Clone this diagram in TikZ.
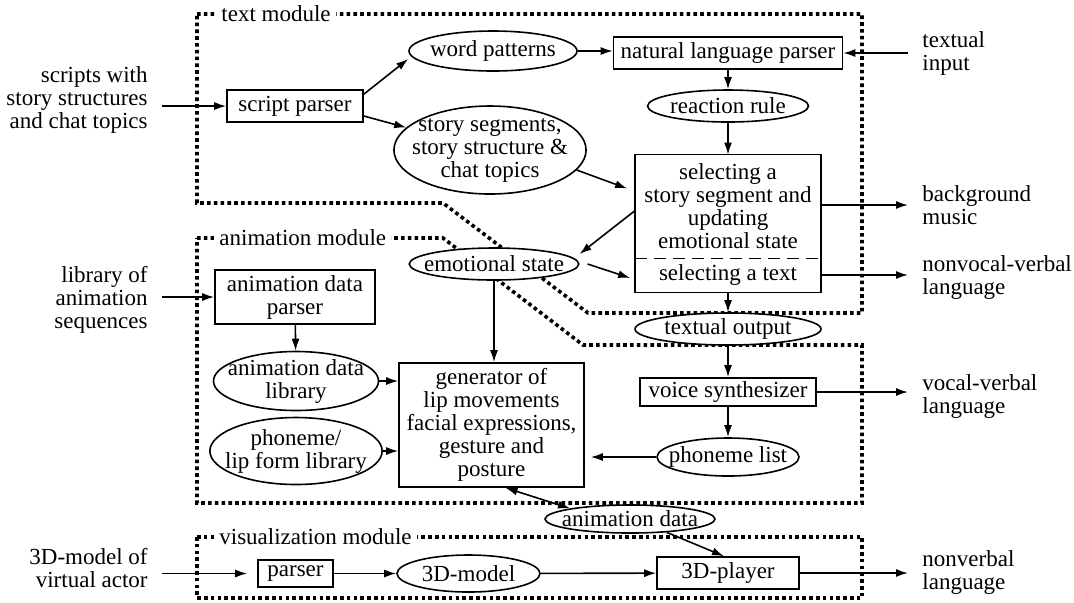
\documentclass[tikz,border=0pt]{standalone}
\usepackage{fontspec}
\setmainfont{Liberation Serif}
\usepackage{tikz}
\usetikzlibrary{shapes.geometric,arrows.meta,calc}
\tikzset{
  mfont/.style={font=\fontsize{11.5pt}{11.5pt}\selectfont},
  blk/.style={mfont, draw, fill=white, line width=0.8pt, inner sep=0pt, align=center},
  blkline/.style={draw, line width=0.8pt},
  inbox/.style={mfont, inner sep=0pt, align=center},
  oval/.style={mfont, ellipse, draw, fill=white, line width=0.8pt, inner xsep=-5pt, inner ysep=-1pt, align=center},
  io/.style={mfont, inner sep=7pt},
  modline/.style={line width=1.8pt, dash pattern=on 1.8pt off 1.6pt},
  modlab/.style={mfont, fill=white, inner sep=2.5pt},
  divider/.style={line width=0.8pt, dash pattern=on 6pt off 3.5pt},
  arr/.style={line width=0.8pt, -{Latex[length=6pt,width=4pt]}},
  arrb/.style={line width=0.8pt, {Latex[length=6pt,width=4pt]}-{Latex[length=6pt,width=4pt]}},
}
\begin{document}
\begin{tikzpicture}[x=0.5pt,y=-0.5pt]
  \useasboundingbox (0,0) rectangle (1074,602);
  % modules
  \draw[modline] (197,14) -- (862,14) -- (862,313) -- (588,313) -- (443,203) -- (197,203) -- cycle;
  \draw[modline] (197,238) -- (443,238) -- (583,345) -- (862,345) -- (862,503) -- (197,503) -- cycle;
  \draw[modline] (197,537) -- (862,537) -- (862,598) -- (197,598) -- cycle;
  \node[modlab, anchor=west] (tmod) at (216,14) {text module};
  \node[modlab, anchor=west] (amod) at (214,238) {animation module};
  \node[modlab, anchor=west] (vmod) at (214,537) {visualization module};

  % text module
  \node[io, anchor=east, align=right] (scr) at (162,100) {scripts with\\story structures\\and chat topics};
  \node[blk, minimum width=68pt, minimum height=16pt] (sp) at (295,106) {script parser};
  \node[oval, minimum width=84pt, minimum height=20pt] (wp) at (493,51) {word patterns};
  \node[blk, minimum width=114.5pt, minimum height=16pt] (nlp) at (728,53) {natural language parser};
  \node[io, anchor=west, align=left] (inp) at (908,53) {textual\\input};
  \node[oval, minimum width=80.5pt, minimum height=16pt] (rr) at (728,106) {reaction rule};
  \node[oval, minimum width=95pt, minimum height=44pt] (ss) at (490,150) {story segments,\\story structure \&\\chat topics};
  \node[inbox, minimum width=92.5pt, minimum height=51.5pt] (sel) at (728,206.5) {selecting a\\story segment and\\updating\\emotional state};
  \node[inbox, minimum width=92.5pt, minimum height=17pt] (txt) at (728,275) {selecting a text};
  \draw[blkline] (sel.north west) rectangle (txt.south east);
  \draw[divider] (sel.south west) -- (sel.south east);
  \node[io, anchor=west, align=left] (mus) at (908,205) {background\\music};
  \node[io, anchor=west, align=left] (nvv) at (908,277) {nonvocal-verbal\\language};
  \node[oval, minimum width=84pt, minimum height=16pt] (es) at (494,264) {emotional state};
  \node[oval, minimum width=93pt, minimum height=16pt] (tout) at (728,329) {textual output};

  % animation module
  \node[io, anchor=east, align=right] (lib) at (162,300) {library of\\animation\\sequences};
  \node[blk, minimum width=80pt, minimum height=27pt] (adp) at (295,297) {animation data\\parser};
  \node[oval, minimum width=82.5pt, minimum height=29.5pt] (adl) at (296,381) {animation data\\library};
  \node[oval, minimum width=85.5pt, minimum height=33.5pt] (plf) at (296,451) {phoneme/\\lip form library};
  \node[blk, minimum width=92.5pt, minimum height=62pt] (gen) at (491.5,425) {generator of\\lip movements\\facial expressions,\\gesture and\\posture};
  \node[blk, minimum width=88pt, minimum height=14pt] (vs) at (728,392) {voice synthesizer};
  \node[io, anchor=west, align=left] (voc) at (908,396) {vocal-verbal\\language};
  \node[oval, minimum width=71pt, minimum height=19pt] (pl) at (728,457) {phoneme list};
  \node[oval, minimum width=85pt, minimum height=14pt] (ad) at (630,519) {animation data};

  % visualization module
  \node[io, anchor=east, align=right] (act) at (162,568) {3D-model of\\virtual actor};
  \node[blk, minimum width=37.5pt, minimum height=13.5pt] (par) at (295.5,573.5) {parser};
  \node[oval, minimum width=71.5pt, minimum height=18.5pt] (m3d) at (468.5,573.5) {3D-model};
  \node[blk, minimum width=71pt, minimum height=16pt] (ply) at (728,573) {3D-player};
  \node[io, anchor=west, align=left] (nvb) at (908,572) {nonverbal\\language};

  % connectors
  \draw[arr] (scr.east |- sp.west) -- (sp.west);
  \draw[arr] ([yshift=-2.5pt]sp.north east) -- ([yshift=-4pt]wp.west);
  \draw[arr] ([yshift=-5pt]sp.east) -- (ss.165);
  \draw[arr] (wp.east) -- (wp.east -| nlp.west);
  \draw[arr] (inp.west |- nlp.east) -- (nlp.east);
  \draw[arr] (nlp) -- (rr);
  \draw[arr] (rr) -- (sel);
  \draw[arr] (ss.-13) -- ([xshift=-4pt,yshift=9pt]sel.west);
  \draw[arr] ([yshift=-2pt]sel.west) -- ([yshift=5pt]es.east);
  \draw[arr] ([xshift=4pt]es.east) -- ([xshift=-2.5pt,yshift=-1.5pt]txt.west);
  \draw[arr] (es.south) -- (es.south |- gen.north);
  \draw[arr] (mus.west -| sel.east) -- (mus.west);
  \draw[arr] (txt.east) -- (txt.east -| nvv.west);
  \draw[arr] (txt) -- (tout);
  \draw[arr] (tout) -- (vs);
  \draw[arr] (vs) -- (pl);
  \draw[arr] (vs.east) -- (vs.east -| voc.west);
  \draw[arr, shorten >=3pt] (pl) -- (pl -| gen.east);
  \draw[arr] (adp.west -| lib.east) -- (adp.west);
  \draw[arr] (adp) -- (adl);
  \draw[arr] (adl.east) -- (adl.east -| gen.west);
  \draw[arr] (plf.east) -- (plf.east -| gen.west);
  \draw[arrb] ([xshift=7pt]gen.south) -- (ad.170);
  \draw[arr] (ad.-20) -- ([xshift=-2pt]ply.north);
  \draw[arr, shorten >=5pt] (par.west -| act.east) -- (par.west);
  \draw[arr] (par) -- (m3d);
  \draw[arr] (m3d) -- (ply);
  \draw[arr] (ply.east) -- (ply.east -| nvb.west);
\end{tikzpicture}
\end{document}
